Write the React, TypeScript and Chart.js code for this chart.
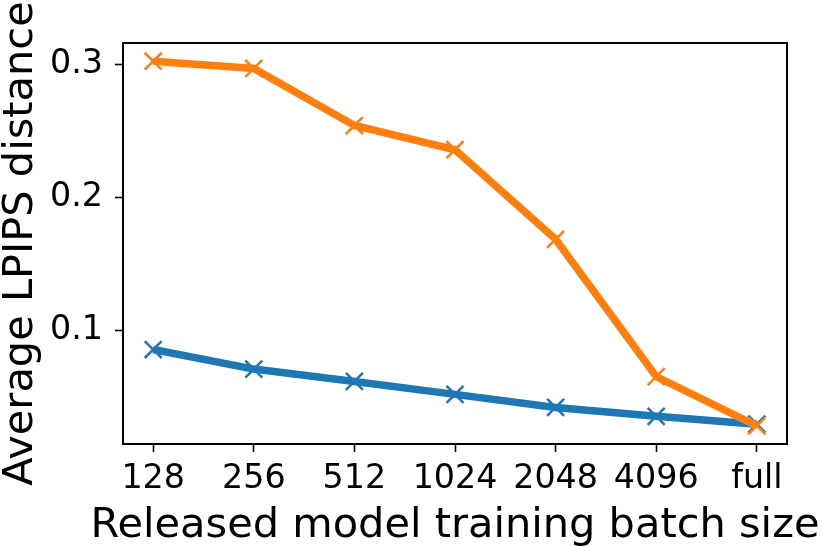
import React, { useEffect, useRef } from "react";
import { Chart, registerables } from "chart.js";

Chart.register(...registerables);

const categories = ["128", "256", "512", "1024", "2048", "4096", "full"];
const blueValues = [0.0856, 0.0709, 0.0616, 0.0519, 0.0421, 0.0354, 0.0295];
const orangeValues = [0.3022, 0.2968, 0.2539, 0.2357, 0.1684, 0.0653, 0.0283];
const yTickValues = [0.1, 0.2, 0.3];

const xTitle = "Released model training batch size";
const yTitle = "Average LPIPS distance";

const FONT = "'DejaVu Sans', sans-serif";

export default function App() {
  const canvasRef = useRef<HTMLCanvasElement | null>(null);

  useEffect(() => {
    const canvas = canvasRef.current;
    if (!canvas) return;

    const all = [...blueValues, ...orangeValues];
    const lo = Math.min(...all);
    const hi = Math.max(...all);
    const m = (hi - lo) * 0.05;
    const n = categories.length - 1;
    const xm = n * 0.05;

    const frame = {
      id: "frame",
      afterDraw(chart: any) {
        const { ctx, chartArea } = chart;
        ctx.save();
        ctx.strokeStyle = "#000";
        ctx.lineWidth = 2;
        ctx.strokeRect(
          chartArea.left,
          chartArea.top,
          chartArea.right - chartArea.left,
          chartArea.bottom - chartArea.top
        );
        ctx.fillStyle = "#000";
        ctx.font = `41.5px ${FONT}`;
        ctx.textAlign = "center";
        ctx.textBaseline = "middle";
        ctx.fillText(xTitle, (chartArea.left + chartArea.right) / 2, chart.height - 21);
        ctx.restore();
      },
    };

    const chart = new Chart(canvas, {
      type: "line",
      data: {
        datasets: [
          {
            label: "blue",
            data: blueValues.map((v, i) => ({ x: i, y: v })),
            borderColor: "#1f77b4",
            backgroundColor: "#1f77b4",
            borderWidth: 7.5,
            pointStyle: "crossRot",
            pointRadius: 12,
            pointBorderWidth: 2.5,
            pointBorderColor: "#1f77b4",
            tension: 0,
            order: 2,
          },
          {
            label: "orange",
            data: orangeValues.map((v, i) => ({ x: i, y: v })),
            borderColor: "#ff7f0e",
            backgroundColor: "#ff7f0e",
            borderWidth: 7.5,
            pointStyle: "crossRot",
            pointRadius: 12,
            pointBorderWidth: 2.5,
            pointBorderColor: "#ff7f0e",
            tension: 0,
            order: 1,
          },
        ],
      },
      options: {
        responsive: false,
        animation: false,
        events: [],
        layout: { padding: { top: 43, right: 35, left: 0, bottom: 0 } },
        plugins: {
          legend: { display: false },
          tooltip: { enabled: false },
        },
        scales: {
          x: {
            type: "linear",
            min: -xm,
            max: n + xm,
            afterBuildTicks(scale: any) {
              scale.ticks = categories.map((_, i) => ({ value: i }));
            },
            afterFit(scale: any) {
              scale.height = 103;
            },
            ticks: {
              color: "#000",
              font: { family: FONT, size: 33.3, lineHeight: 1.2 },
              padding: 7,
              maxRotation: 0,
              autoSkip: false,
              callback: (value: any) => categories[Math.round(Number(value))] ?? "",
            },
            grid: {
              drawOnChartArea: false,
              drawTicks: true,
              tickLength: 8,
              tickWidth: 1.6,
              tickColor: "#000",
            },
            border: { display: false },
            title: { display: false },
          },
          y: {
            type: "linear",
            min: lo - m,
            max: hi + m,
            afterBuildTicks(scale: any) {
              scale.ticks = yTickValues.map((v) => ({ value: v }));
            },
            afterFit(scale: any) {
              scale.width = 123;
            },
            ticks: {
              color: "#000",
              font: { family: FONT, size: 33.3, lineHeight: 1.2 },
              padding: 12,
              callback: (value: any) => Number(value).toFixed(1),
            },
            grid: {
              drawOnChartArea: false,
              drawTicks: true,
              tickLength: 8,
              tickWidth: 1.6,
              tickColor: "#000",
            },
            border: { display: false },
            title: {
              display: true,
              text: yTitle,
              color: "#000",
              font: { family: FONT, size: 41.5, lineHeight: 1 },
              padding: 0,
            },
          },
        },
      },
      plugins: [frame],
    } as any);

    return () => chart.destroy();
  }, []);

  return (
    <div style={{ position: "absolute", left: 0, top: 0, width: 822, height: 547, background: "#fff" }}>
      <canvas ref={canvasRef} width={822} height={547} style={{ display: "block" }} />
    </div>
  );
}
